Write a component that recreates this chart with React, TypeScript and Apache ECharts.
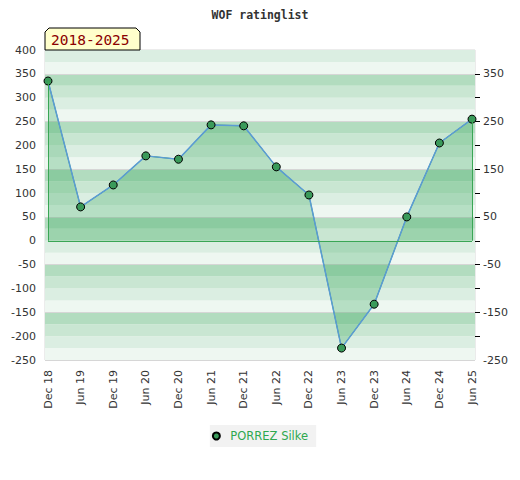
import React, { useEffect, useRef } from "react";
import * as echarts from "echarts";

const categories = ["Dec 18", "Jun 19", "Dec 19", "Jun 20", "Dec 20", "Jun 21", "Dec 21", "Jun 22", "Dec 22", "Jun 23", "Dec 23", "Jun 24", "Dec 24", "Jun 25"];
const ratings = [335, 71, 117, 178, 171, 243, 241, 155, 96, -225, -133, 50, 205, 255];
const rightLabels = [-250, -150, -50, 50, 150, 250, 350];
const rightTicks = [-200, -150, -100, -50, 0, 50, 100, 150, 200, 250, 300, 350];
const seriesName = "PORREZ Silke";
const titleText = "WOF ratinglist";
const periodText = "2018-2025";

const FONT = "DejaVu Sans, sans-serif";
const MONO = "DejaVu Sans Mono, monospace";

export default function App() {
  const ref = useRef<HTMLDivElement>(null);
  useEffect(() => {
    if (!ref.current) return;
    const chart = echarts.init(ref.current, null, { renderer: "svg" });
    const first = categories[0];
    const last = categories[categories.length - 1];
    const green = "#3aa655";
    chart.setOption({
      animation: false,
      backgroundColor: "#ffffff",
      title: {
        text: titleText,
        left: "center",
        top: 4,
        textStyle: { fontFamily: MONO, fontWeight: "bold", fontSize: 11.5, color: "#333" },
      },
      legend: {
        data: [seriesName],
        bottom: 33,
        left: "center",
        backgroundColor: "#f2f2f2",
        padding: [5, 8, 5, 2],
        icon: "circle",
        itemWidth: 18,
        itemHeight: 7,
        textStyle: { color: "#2ea84f", fontFamily: FONT, fontSize: 11.5 },
      },
      grid: [
        { left: 45, top: 50, width: 430, height: 310, show: true, borderColor: "#d8d8d8", borderWidth: 1, backgroundColor: "transparent" },
        { left: 48, top: 50, width: 424, height: 310 },
      ],
      xAxis: [
        { gridIndex: 0, type: "value", min: 0, max: 1, show: false },
        {
          gridIndex: 1,
          type: "category",
          data: categories,
          boundaryGap: false,
          axisLine: { show: false },
          axisTick: { show: false },
          axisLabel: { rotate: 90, color: "#333", fontFamily: FONT, fontSize: 11, margin: 10 },
        },
      ],
      yAxis: [
        {
          gridIndex: 0,
          type: "value",
          min: -250,
          max: 400,
          interval: 25,
          axisLine: { show: false },
          axisTick: { show: false },
          axisLabel: { show: false },
          splitArea: { show: true, areaStyle: { color: ["#eef7f1", "#dbeee2", "#c9e6d2", "#b2dcbf"] } },
          splitLine: { show: true, lineStyle: { color: ["#d6d6d6", "rgba(0,0,0,0)", "rgba(0,0,0,0)", "rgba(0,0,0,0)"], width: 1 } },
        },
        {
          gridIndex: 1,
          type: "value",
          min: -250,
          max: 400,
          interval: 50,
          position: "left",
          offset: 3,
          axisLine: { show: false },
          axisTick: { show: false },
          splitLine: { show: false },
          axisLabel: { color: "#333", fontFamily: FONT, fontSize: 11, margin: 9 },
        },
        {
          gridIndex: 1,
          type: "value",
          min: -250,
          max: 400,
          interval: 50,
          position: "right",
          offset: 3,
          axisLine: { show: false },
          axisTick: { show: true, length: 5, lineStyle: { color: "#000" }, customValues: rightTicks },
          splitLine: { show: false },
          axisLabel: {
            color: "#333",
            fontFamily: FONT,
            fontSize: 11,
            margin: 8,
            customValues: rightLabels,
          },
        },
      ],
      series: [
        {
          type: "line",
          name: "area",
          xAxisIndex: 1,
          yAxisIndex: 1,
          data: ratings,
          symbol: "none",
          lineStyle: { color: green, width: 1 },
          areaStyle: { color: "rgba(40,160,80,0.4)", origin: 0 },
          silent: true,
          markLine: {
            silent: true,
            symbol: "none",
            label: { show: false },
            lineStyle: { color: green, width: 1, type: "solid" },
            data: [
              [{ coord: [first, 0] }, { coord: [last, 0] }],
              [{ coord: [first, 0] }, { coord: [first, ratings[0]] }],
              [{ coord: [last, 0] }, { coord: [last, ratings[ratings.length - 1]] }],
            ],
          },
        },
        {
          type: "line",
          name: seriesName,
          xAxisIndex: 1,
          yAxisIndex: 1,
          data: ratings,
          symbol: "circle",
          symbolSize: 8,
          showAllSymbol: true,
          lineStyle: { color: "#5b9bd5", width: 1.5 },
          itemStyle: { color: "#3a9a5a", borderColor: "#000", borderWidth: 1 },
        },
      ],
      graphic: [
        {
          type: "polygon",
          z: 100,
          shape: { points: [[45, 50], [45, 32], [49, 28], [136, 28], [140, 32], [140, 50]] },
          style: { fill: "#ffffcc", stroke: "#000", lineWidth: 1 },
        },
        {
          type: "text",
          z: 101,
          x: 51,
          y: 40,
          style: { text: periodText, fill: "#8b0000", font: "14.5px " + MONO, textVerticalAlign: "middle" },
        },
      ],
    });
    return () => chart.dispose();
  }, []);
  return <div ref={ref} style={{ position: "absolute", left: 0, top: 0, width: 520, height: 480 }} />;
}
